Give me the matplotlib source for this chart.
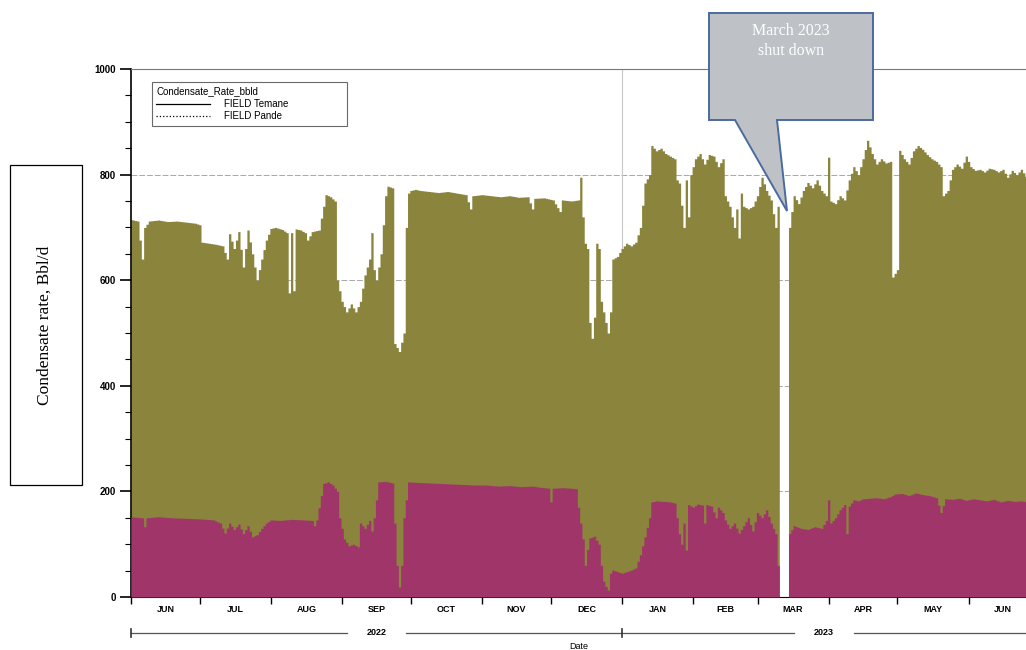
import numpy as np
import pandas as pd
import matplotlib
matplotlib.use('Agg')
import matplotlib.pyplot as plt
from matplotlib.lines import Line2D
from matplotlib.patches import Polygon, Rectangle

plt.rcParams['font.family'] = ['Liberation Sans', 'DejaVu Sans']

# days counted from 2022-06-01, values in bbl/d
start = pd.Timestamp('2022-06-01')
total_days = [0, 3, 5, 6, 8, 12, 16, 20, 24, 28, 30, 31, 34, 37, 40, 42, 43, 45, 47, 49,
              51, 53, 55, 57, 59, 61, 63, 66, 68, 69, 70, 71, 72, 74, 76, 77, 79, 82, 84, 85,
              87, 89, 90, 92, 94, 96, 98, 100, 102, 104, 105, 106, 107, 109, 111, 112, 114, 115, 117, 119,
              120, 121, 122, 124, 126, 130, 134, 138, 142, 146, 148, 149, 153, 157, 161, 165, 169, 173, 175, 176,
              180, 184, 187, 188, 192, 195, 196, 197, 198, 199, 200, 201, 202, 203, 204, 205, 207, 208, 209, 210,
              212, 214, 216, 218, 220, 222, 224, 226, 227, 229, 231, 233, 235, 237, 238, 239, 241, 242, 243, 244,
              246, 248, 250, 252, 254, 256, 258, 259, 261, 263, 264, 265, 266, 267, 269, 271, 273, 275, 277, 279,
              281, 282, 283, 286, 287, 289, 291, 293, 295, 297, 299, 301, 303, 304, 305, 307, 309, 311, 313, 315,
              317, 319, 321, 323, 325, 327, 329, 331, 332, 334, 335, 337, 339, 341, 343, 345, 347, 349, 351, 353,
              354, 356, 358, 360, 362, 364, 366, 368, 370, 372, 374, 376, 378, 380, 382, 384, 386, 388, 391]
total_vals = [715, 712, 640, 700, 712, 714, 711, 712, 710, 708, 705, 672, 670, 668, 665, 640, 688, 660, 692, 625,
              695, 650, 600, 640, 676, 698, 700, 696, 690, 576, 690, 580, 697, 695, 690, 676, 692, 695, 740, 762,
              758, 750, 600, 560, 540, 555, 540, 560, 610, 640, 690, 620, 600, 650, 760, 778, 775, 480, 465, 500,
              700, 765, 770, 772, 770, 768, 766, 768, 765, 762, 735, 760, 762, 760, 758, 760, 757, 758, 735, 755,
              756, 752, 730, 752, 750, 752, 795, 720, 670, 660, 520, 490, 530, 670, 660, 560, 520, 500, 540, 640,
              645, 660, 670, 665, 672, 700, 784, 800, 855, 845, 850, 840, 835, 830, 790, 784, 700, 790, 720, 800,
              830, 840, 820, 838, 835, 815, 830, 760, 740, 700, 735, 680, 765, 740, 735, 740, 760, 795, 770, 752,
              700, 740, 0, 0, 700, 760, 745, 770, 785, 775, 790, 770, 760, 833, 750, 745, 760, 752, 790, 815,
              800, 830, 865, 840, 820, 830, 822, 825, 606, 620, 846, 830, 820, 845, 855, 848, 838, 830, 825, 815,
              760, 770, 810, 820, 812, 835, 815, 808, 810, 805, 812, 810, 805, 810, 795, 808, 800, 810, 790]

pande_days = [0, 5, 6, 7, 12, 18, 24, 30, 36, 39, 41, 43, 45, 47, 49, 51, 53, 55, 57, 59,
              61, 65, 70, 75, 79, 80, 81, 84, 86, 88, 90, 91, 93, 95, 97, 99, 100, 102, 104, 105,
              106, 108, 111, 114, 115, 116, 117, 118, 119, 121, 125, 130, 135, 140, 145, 150, 155, 160, 165, 170,
              175, 178, 182, 183, 184, 188, 192, 194, 195, 197, 198, 199, 200, 202, 204, 205, 206, 207, 208, 209,
              210, 212, 214, 216, 218, 220, 222, 224, 226, 227, 229, 232, 235, 237, 238, 239, 240, 241, 242, 243,
              245, 247, 249, 250, 251, 253, 255, 256, 258, 259, 261, 263, 265, 267, 269, 271, 273, 275, 277, 279,
              281, 282, 283, 286, 287, 289, 292, 295, 298, 301, 303, 304, 305, 307, 309, 311, 312, 313, 315, 317,
              319, 322, 325, 328, 331, 333, 336, 339, 342, 345, 348, 351, 353, 355, 358, 361, 364, 367, 370, 373,
              376, 379, 382, 385, 388, 391]
pande_vals = [152, 150, 133, 150, 152, 150, 149, 148, 146, 140, 121, 140, 128, 138, 120, 135, 114, 118, 130, 140,
              146, 145, 147, 146, 145, 135, 146, 215, 218, 212, 200, 150, 110, 97, 100, 95, 140, 130, 145, 125,
              150, 218, 219, 216, 140, 60, 19, 60, 150, 218, 217, 216, 215, 214, 213, 212, 212, 210, 211, 209,
              210, 208, 206, 180, 206, 207, 206, 205, 170, 110, 60, 90, 112, 115, 100, 60, 30, 20, 13, 45,
              51, 48, 45, 48, 51, 55, 80, 114, 150, 180, 182, 181, 180, 178, 150, 120, 100, 140, 89, 175,
              170, 176, 174, 140, 175, 172, 150, 170, 160, 146, 130, 140, 121, 135, 150, 125, 160, 150, 165, 140,
              120, 60, 0, 0, 120, 135, 130, 128, 133, 130, 145, 184, 140, 150, 165, 175, 120, 172, 184, 182,
              186, 187, 188, 186, 190, 195, 196, 192, 197, 194, 192, 188, 160, 186, 185, 187, 183, 186, 184, 182,
              185, 180, 183, 181, 182, 180]

months = ['JUN', 'JUL', 'AUG', 'SEP', 'OCT', 'NOV', 'DEC', 'JAN', 'FEB', 'MAR', 'APR', 'MAY', 'JUN']
years = ['2022', '2023']

olive = '#8a843c'
magenta = '#a0356a'

# common daily grid so the two layers stack
days = np.arange(0, 392)
tot = np.interp(days, total_days, total_vals)
pan = np.interp(days, pande_days, pande_vals)
pan = np.minimum(pan, tot)
dates = start + pd.to_timedelta(days, unit='D')
end = start + pd.Timedelta(days=390)

fig = plt.figure(figsize=(10.26, 6.5), dpi=100)
ax = fig.add_axes([131/1026, 53/650, 895/1026, 528/650])

ax.fill_between(dates, 0, tot, color=olive, linewidth=0, step='mid', zorder=2)
ax.fill_between(dates, 0, pan, color=magenta, linewidth=0, step='mid', zorder=3)

# y axis
ax.set_yticks([0, 200, 400, 600, 800, 1000])
ax.set_yticks(np.arange(0, 1001, 50), minor=True)
ax.tick_params(axis='y', which='major', length=8, width=1.2, labelsize=7, pad=3)
ax.tick_params(axis='y', which='minor', length=4, width=0.8)
for lbl in ax.get_yticklabels():
    lbl.set_fontweight('bold')
for y in [200, 400, 600, 800]:
    ax.axhline(y, color='#a8a8a8', lw=0.7, ls=(0, (6, 2)), zorder=1)
ax.axvline(pd.Timestamp('2023-01-01'), color='#c8c8c8', lw=0.8, zorder=1)

# x axis: ticks at month starts, labels centered in the month
mstarts = pd.date_range('2022-06-01', periods=14, freq='MS')
ax.set_xticks(mstarts)
ax.set_xticklabels([])
ax.tick_params(axis='x', which='major', length=5, width=1, direction='out')
mids = [mstarts[i] + (mstarts[i + 1] - mstarts[i]) / 2 for i in range(len(months))]
ax.set_xticks(mids, minor=True)
ax.set_xticklabels(months, minor=True, fontsize=6.5, fontweight='bold')
ax.tick_params(axis='x', which='minor', length=0, pad=6)
ax.set_xlim(start, end)
ax.set_ylim(0, 1000)

ax.spines['right'].set_visible(False)
ax.spines['top'].set_color('#777777')
ax.spines['left'].set_linewidth(1.2)

# year ruler under the months
xt = ax.get_xaxis_transform()
yr_y = -0.068
ybounds = [(pd.Timestamp('2022-06-01'), pd.Timestamp('2023-01-01')),
           (pd.Timestamp('2023-01-01'), end)]
for name, (a, b) in zip(years, ybounds):
    mid = a + (b - a) / 2
    gap = pd.Timedelta(days=13)
    ax.plot([a, mid - gap], [yr_y, yr_y], color='#555555', lw=0.9, transform=xt, clip_on=False)
    ax.plot([mid + gap, b], [yr_y, yr_y], color='#555555', lw=0.9, transform=xt, clip_on=False)
    ax.text(mid, yr_y, name, transform=xt, ha='center', va='center', fontsize=6.5, fontweight='bold')
for d in [pd.Timestamp('2022-06-01'), pd.Timestamp('2023-01-01')]:
    ax.plot([d, d], [yr_y - 0.008, yr_y + 0.008], color='#333333', lw=1.2, transform=xt, clip_on=False)
ax.set_xlim(start, end)
ax.text(0.5, -0.094, 'Date', transform=ax.transAxes, ha='center', va='center', fontsize=6.5)

# legend
handles = [Line2D([0], [0], color='black', lw=0.9, ls='-'),
           Line2D([0], [0], color='black', lw=0.9, ls=':')]
leg = ax.legend(handles, ['FIELD Temane', 'FIELD Pande'], title='Condensate_Rate_bbld',
                loc='upper left', bbox_to_anchor=(0.0235, 0.8845, 0.2175, 0.0905), mode='expand',
                fontsize=7, title_fontsize=7, frameon=True, fancybox=False, edgecolor='#444444',
                handlelength=5.5, borderpad=0.45, labelspacing=0.25, handletextpad=1.5, borderaxespad=0)
leg._legend_box.align = 'left'
leg.get_frame().set_linewidth(0.8)

# overlay in pixel coordinates for the boxed y label and the callout
ov = fig.add_axes([0, 0, 1, 1], facecolor='none')
ov.set_xlim(0, 1026)
ov.set_ylim(650, 0)
ov.axis('off')
ov.add_patch(Rectangle((10, 165), 72, 320, fill=False, edgecolor='black', lw=0.9))
ov.text(45, 325, 'Condensate rate, Bbl/d', rotation=90, ha='center', va='center',
        fontsize=12.5, family=['Liberation Serif', 'DejaVu Serif'])
callout = Polygon([(709, 13), (873, 13), (873, 120), (777, 120), (787, 211), (735, 120), (709, 120)],
                  closed=True, facecolor='#bec2c6', edgecolor='#4a6aa0', lw=1.4, zorder=5)
ov.add_patch(callout)
ov.text(791, 41, 'March 2023\nshut down', ha='center', va='center', color='white',
        fontsize=11.5, family=['Liberation Serif', 'DejaVu Serif'], linespacing=1.35, zorder=6)

fig.savefig('out.png', dpi=100)
